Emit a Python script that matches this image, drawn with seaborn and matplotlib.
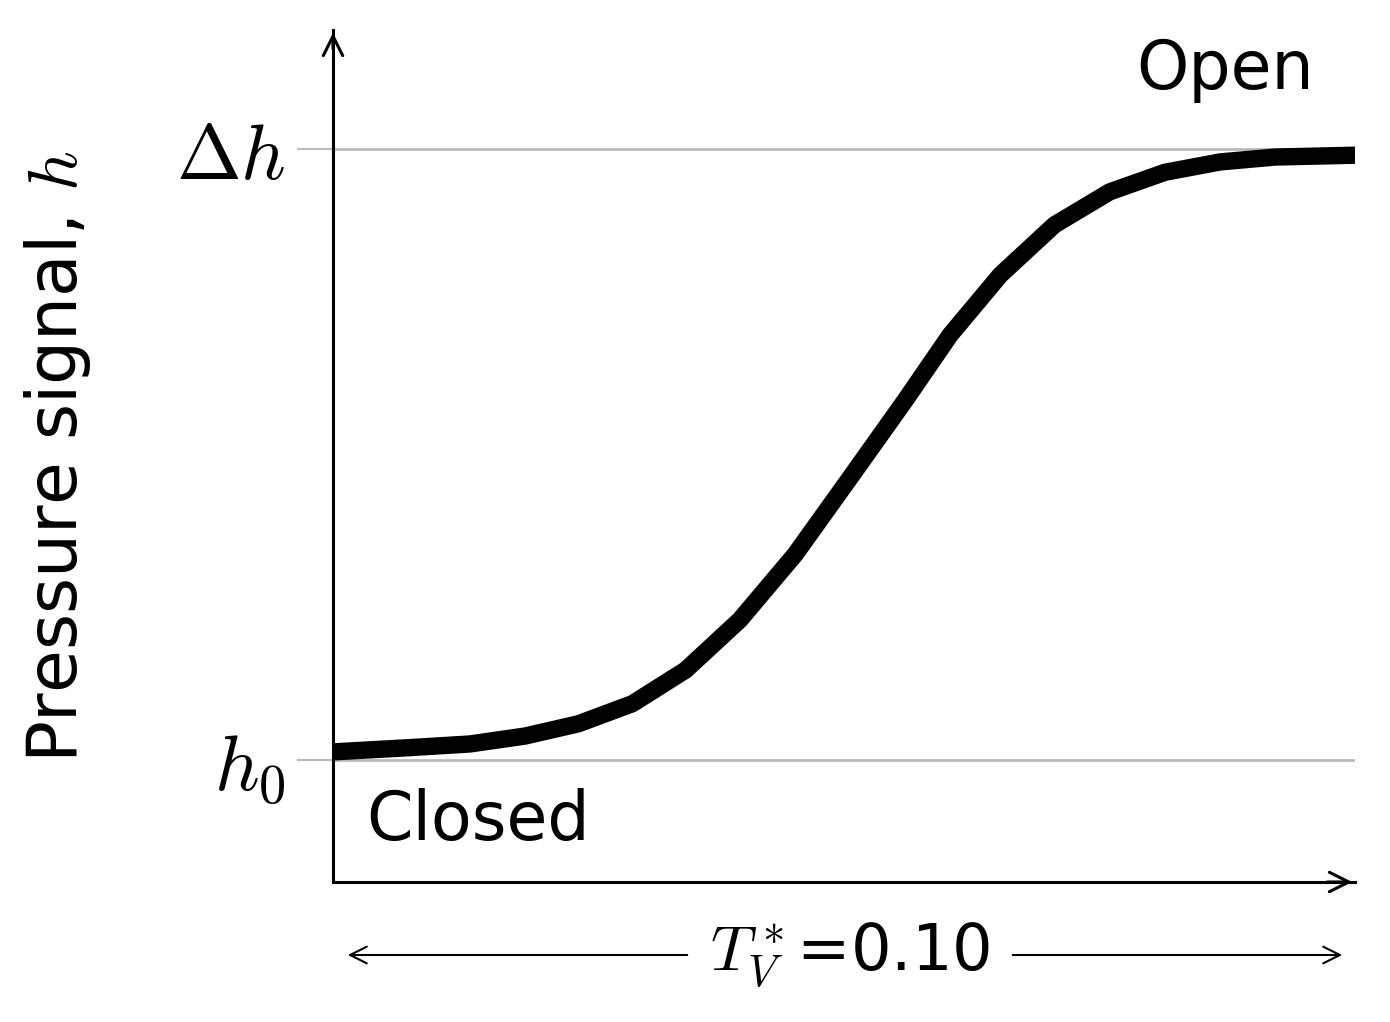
import matplotlib
matplotlib.use("Agg")
import matplotlib.pyplot as plt
import seaborn as sns
import pandas as pd

x_vals = [0, 0.075, 0.134, 0.188, 0.240, 0.293, 0.345, 0.398, 0.452, 0.506, 0.560, 0.604, 0.653, 0.706, 0.760, 0.814, 0.868, 0.922, 1.0]
h_vals = [0.013, 0.020, 0.026, 0.039, 0.059, 0.092, 0.147, 0.229, 0.336, 0.462, 0.589, 0.696, 0.794, 0.876, 0.930, 0.962, 0.979, 0.987, 0.990]
tick_labels = [r"$h_0$", r"$\Delta h$"]
ylabel = r"Pressure signal, $h$"
bottom_label = r"$T_V^*$=0.10"

sns.set_style("white")
plt.rcParams['font.family'] = ['DejaVu Sans']
plt.rcParams['mathtext.fontset'] = 'cm'
plt.rcParams['text.color'] = 'black'
plt.rcParams['axes.labelcolor'] = 'black'
plt.rcParams['ytick.labelcolor'] = 'black'

fig = plt.figure(figsize=(13.9, 10.22), dpi=100)
ax = fig.add_axes([333/1390, 1-882/1022, (1355-333)/1390, (882-30)/1022])
df = pd.DataFrame({"x": x_vals, "h": h_vals})
ax.axhline(0, color="#bbbbbb", lw=2, zorder=1)
ax.axhline(1, color="#bbbbbb", lw=2, zorder=1)
sns.lineplot(data=df, x="x", y="h", ax=ax, color="black", lw=12.5, zorder=3)
ax.set_xlim(0, 1)
ax.set_ylim(-0.2, 1.195)
ax.set_xticks([])
ax.set_yticks([0, 1])
ax.set_yticklabels(tick_labels, fontsize=56)
ax.tick_params(axis="y", left=True, length=26, width=1.5, color="#bbbbbb", pad=8, labelcolor="black")
ax.set_xlabel("")
ax.set_ylabel(ylabel, fontsize=50, labelpad=60)
for s in ["top", "right"]:
    ax.spines[s].set_visible(False)
for s in ["left", "bottom"]:
    ax.spines[s].set_linewidth(2.2)
    ax.spines[s].set_color("black")
# axis arrowheads
ax.annotate("", xy=(1.0, -0.2), xytext=(0.97, -0.2), xycoords="data",
            arrowprops=dict(arrowstyle="->", color="black", lw=2.2, mutation_scale=35), annotation_clip=False)
ax.annotate("", xy=(0, 1.195), xytext=(0, 1.16), xycoords="data",
            arrowprops=dict(arrowstyle="->", color="black", lw=2.2, mutation_scale=35), annotation_clip=False)
ax.text(0.96, 1.13, "Open", fontsize=48, ha="right", va="center")
ax.text(0.033, -0.1, "Closed", fontsize=48, ha="left", va="center")
# bottom double arrow
yb = 1 - 955/1022
fig.text(850/1390, yb, bottom_label, fontsize=46, ha="center", va="center")
fig.add_artist(matplotlib.patches.FancyArrowPatch((690/1390, yb), (345/1390, yb), transform=fig.transFigure,
               arrowstyle="->", mutation_scale=30, lw=1.5, color="black"))
fig.add_artist(matplotlib.patches.FancyArrowPatch((1010/1390, yb), (1345/1390, yb), transform=fig.transFigure,
               arrowstyle="->", mutation_scale=30, lw=1.5, color="black"))
fig.savefig("out.png", dpi=100)
